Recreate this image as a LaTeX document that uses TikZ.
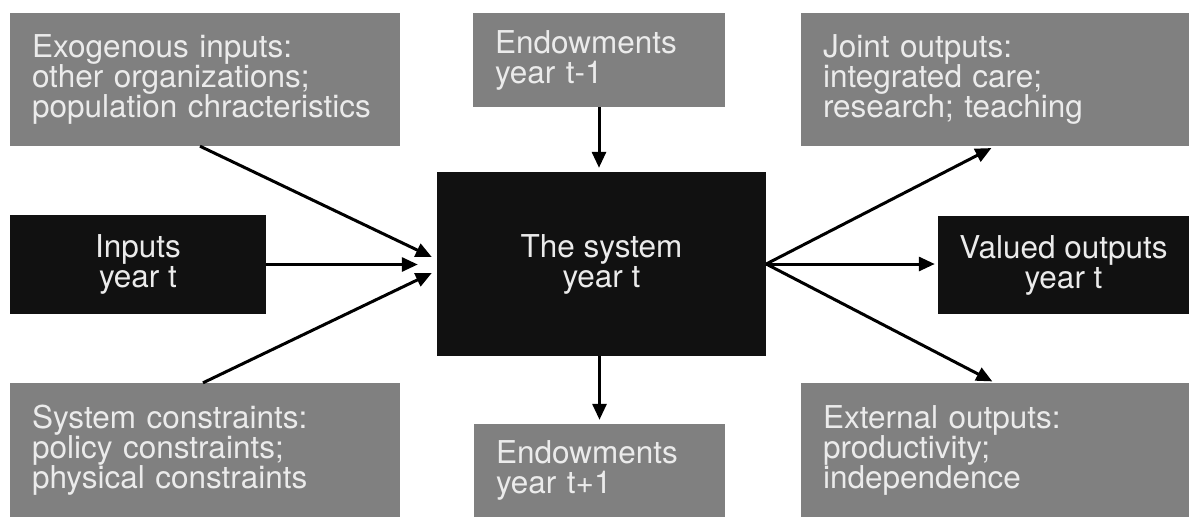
\documentclass[tikz,border=0pt]{standalone}
\usepackage{fontspec}
\setmainfont{TeX Gyre Heros}
\usetikzlibrary{arrows.meta}
\definecolor{boxgray}{HTML}{808080}
\definecolor{boxblack}{HTML}{111111}
\definecolor{boxtext}{HTML}{EBEBEB}

\begin{document}
\begin{tikzpicture}[x=1pt, y=-1pt,
		graybox/.style={fill=boxgray, text=boxtext, inner xsep=22pt, align=left,
			font=\fontsize{31.5}{30}\selectfont},
		blackbox/.style={fill=boxblack, text=boxtext, align=center,
			font=\fontsize{31.5}{30}\selectfont},
		link/.style={line width=3pt, -{Triangle[length=16pt,width=14pt]}}]
		\useasboundingbox (0,0) rectangle (1189,517);
		% top row
		\node (exo) [graybox, text width=346pt, minimum height=133pt] at (205,79.5)
		{Exogenous inputs:\\other organizations;\\population chracteristics};
		\node (endoA) [graybox, text width=208pt, minimum height=94pt] at (599,60)
		{Endowments\\year t-1};
		\node (joint) [graybox, text width=344pt, minimum height=133pt] at (995,79.5)
		{Joint outputs:\\integrated care;\\research; teaching};
		% middle row
		\node (inputs) [blackbox, minimum width=256pt, minimum height=99pt] at (138,264.5)
		{Inputs\\year t};
		\node (system) [blackbox, minimum width=329pt, minimum height=184pt] at (601.5,264)
		{The system\\year t};
		\node (valued) [blackbox, minimum width=251pt, minimum height=98pt] at (1063.5,265)
		{Valued outputs\\year t};
		% bottom row
		\node (constr) [graybox, text width=346pt, minimum height=134pt] at (205,450)
		{System constraints:\\policy constraints;\\physical constraints};
		\node (endoB) [graybox, text width=207pt, minimum height=93pt] at (599.5,470.5)
		{Endowments\\year t+1};
		\node (external) [graybox, text width=344pt, minimum height=134pt] at (995,450)
		{External outputs:\\productivity;\\independence};
		% arrows into the system
		\draw [link] ([xshift=-5pt]exo.south) -- ([xshift=-5pt,yshift=7pt]system.west);
		\draw [link, shorten >=19pt] (inputs.east) -- (inputs.east -| system.west);
		\draw [link] ([xshift=-2pt]constr.north) -- ([xshift=-5pt,yshift=-9pt]system.west);
		\draw [link, shorten >=4pt] (endoA.south) -- (endoA.south |- system.north);
		% arrows out of the system
		\draw [link, shorten >=4pt] (system.south -| endoB.north) -- (endoB.north);
		\draw [link, shorten >=4pt] (system.east) -- (joint.south);
		\draw [link, shorten >=3pt] (system.east) -- (system.east -| valued.west);
		\draw [link, shorten >=3pt] (system.east) -- (external.north);
\end{tikzpicture}
\end{document}
